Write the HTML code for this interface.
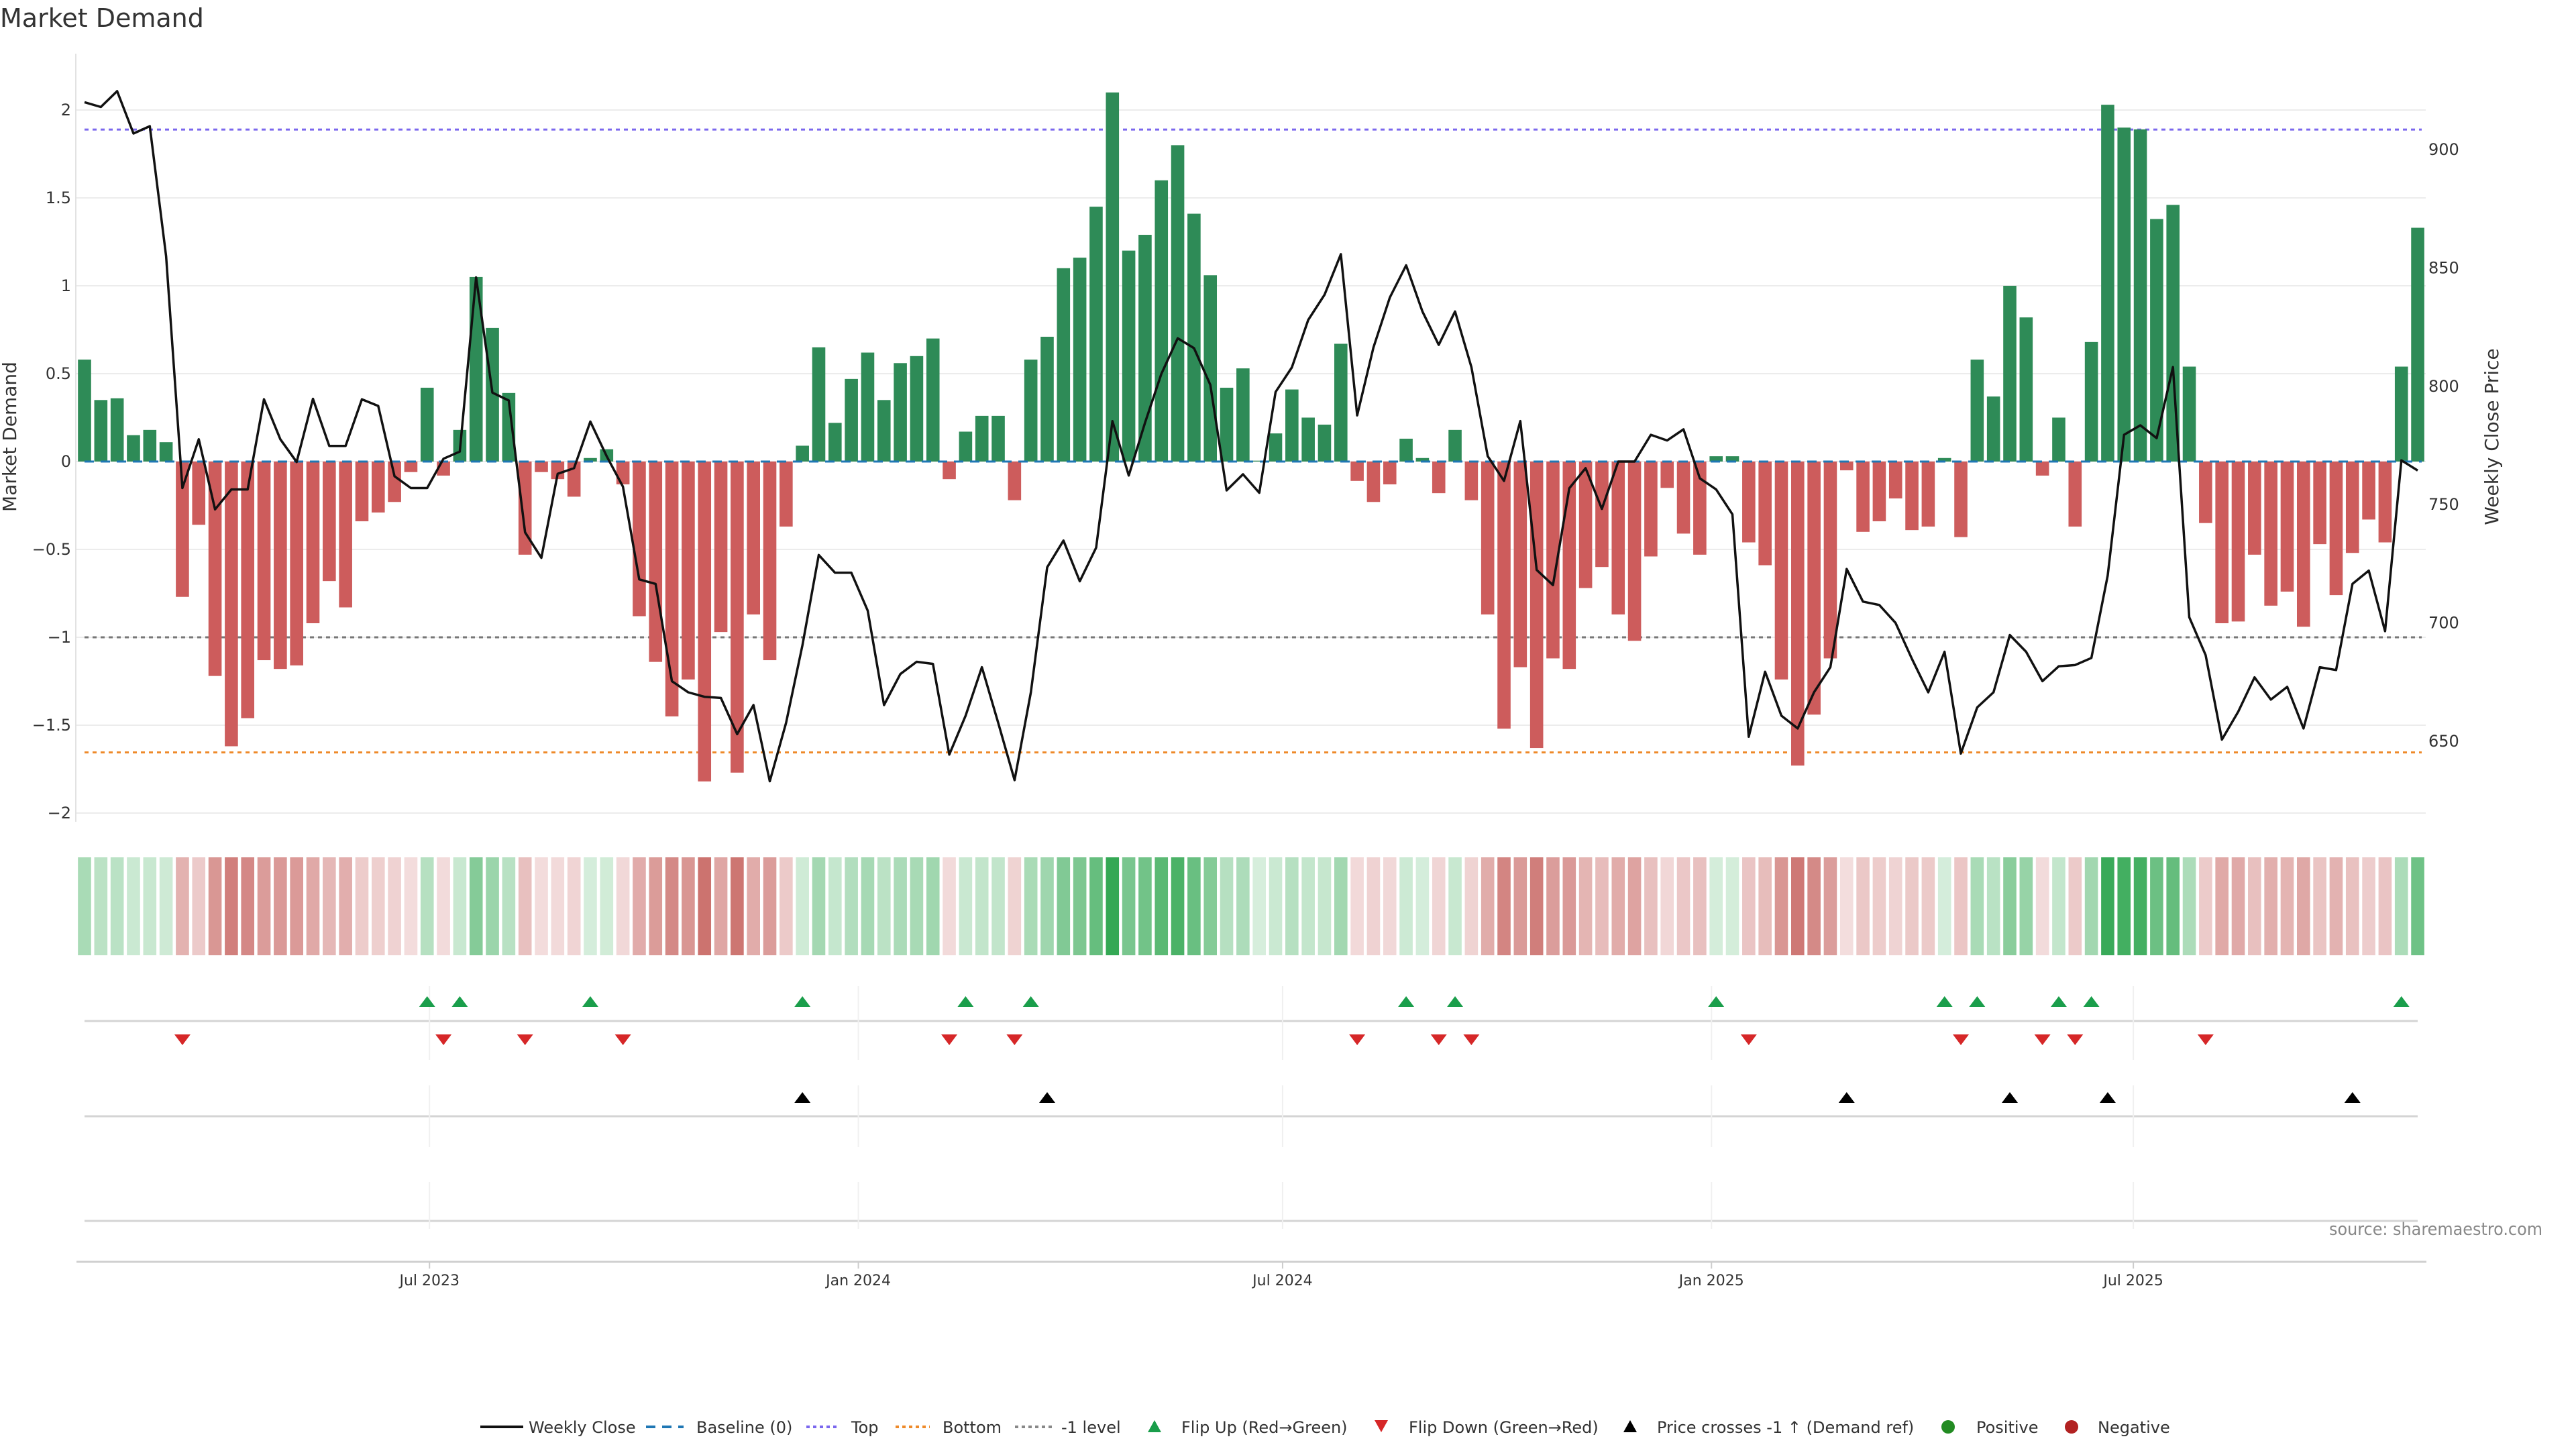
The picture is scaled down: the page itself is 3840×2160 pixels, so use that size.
<!DOCTYPE html>
<html><head><meta charset="utf-8"><style>
html,body{margin:0;padding:0;background:#fff;}
svg{display:block;font-family:"DejaVu Sans","Liberation Sans",sans-serif;}
</style></head><body>
<svg id="chart" width="3840" height="2160" viewBox="0 0 3840 2160" xmlns="http://www.w3.org/2000/svg">
<text x="0" y="40" font-size="38" fill="#333">Market Demand</text>
<g id="grid"></g><g id="levels"></g><g id="bars"></g><g id="line"></g><g id="axes"></g>
<g id="heat"></g><g id="markers"></g><g id="xaxis"></g><g id="legend"></g>
<text x="3472" y="1841" textLength="318" lengthAdjust="spacingAndGlyphs" font-size="26" fill="#888">source: sharemaestro.com</text>
</svg>
<script>
const demand=[0.58,0.35,0.36,0.15,0.18,0.11,-0.77,-0.36,-1.22,-1.62,-1.46,-1.13,-1.18,-1.16,-0.92,-0.68,-0.83,-0.34,-0.29,-0.23,-0.06,0.42,-0.08,0.18,1.05,0.76,0.39,-0.53,-0.06,-0.1,-0.2,0.02,0.07,-0.13,-0.88,-1.14,-1.45,-1.24,-1.82,-0.97,-1.77,-0.87,-1.13,-0.37,0.09,0.65,0.22,0.47,0.62,0.35,0.56,0.60,0.70,-0.10,0.17,0.26,0.26,-0.22,0.58,0.71,1.10,1.16,1.45,2.10,1.20,1.29,1.60,1.80,1.41,1.06,0.42,0.53,0.005,0.16,0.41,0.25,0.21,0.67,-0.11,-0.23,-0.13,0.13,0.02,-0.18,0.18,-0.22,-0.87,-1.52,-1.17,-1.63,-1.12,-1.18,-0.72,-0.60,-0.87,-1.02,-0.54,-0.15,-0.41,-0.53,0.03,0.03,-0.46,-0.59,-1.24,-1.73,-1.44,-1.12,-0.05,-0.40,-0.34,-0.21,-0.39,-0.37,0.02,-0.43,0.58,0.37,1.00,0.82,-0.08,0.25,-0.37,0.68,2.03,1.90,1.89,1.38,1.46,0.54,-0.35,-0.92,-0.91,-0.53,-0.82,-0.74,-0.94,-0.47,-0.76,-0.52,-0.33,-0.46,0.54,1.33];
const price=[920,918,924.7,906.8,909.9,855,757,777.6,748,756.4,756.4,794.5,777.6,768,794.7,774.8,774.8,794.5,791.7,762,757,757,769.4,772.4,846,797.3,794,738.3,727.5,763,765.4,785.1,770.5,757.6,718.4,716.5,675.4,670.7,668.8,668.3,653,665.3,633.1,657.8,690.6,728.7,721.2,721.2,705.2,665.3,678.4,683.6,682.7,644.4,660.8,681.3,657.8,633.6,670.7,723.5,734.8,717.6,731.8,785.3,762.3,784.6,805.3,820.3,816.1,800.6,756,762.8,755,797.6,808,828,838.7,855.8,787.7,816.4,837.5,851.1,831.6,817.5,831.6,808.1,770.5,760,785.3,722.4,716,756.9,765.4,748.2,768.2,768.2,779.5,777.1,781.8,761.1,756.4,745.9,651.9,679.4,660.8,655.4,670.7,681.3,722.8,709,707.6,700,684.8,670.7,687.8,644.8,664.3,670.7,694.9,687.8,675.4,681.7,682.2,685.2,720,779.5,783.5,778.1,808.1,702.4,686.4,650.7,662.5,677,667.6,673,655.4,681.3,680.1,716.5,722.1,696.5,768.7,764.4];
const crossIdx=[44,59,108,118,124,139];
const leftTicks=[2,1.5,1,0.5,0,-0.5,-1,-1.5,-2];
const leftTickLabels=["2","1.5","1","0.5","0","\u22120.5","\u22121","\u22121.5","\u22122"];
const rightTicks=[900,850,800,750,700,650];
const dateTicks=["2023-07-01","2024-01-01","2024-07-01","2025-01-01","2025-07-01"];
const dateTickLabels=["Jul 2023","Jan 2024","Jul 2024","Jan 2025","Jul 2025"];
const levelTop=1.889, levelBottom=-1.655, levelMinus=-1;
const startDate="2023-02-03";

const NS="http://www.w3.org/2000/svg";
function mk(tag,attrs,parent){const e=document.createElementNS(NS,tag);for(const k in attrs)e.setAttribute(k,attrs[k]);parent.appendChild(e);return e;}
const DAY=86400000, t0=Date.parse(startDate);
const pxPerDay=24.322/7;
function xDate(s){return 126+(Date.parse(s)-t0)/DAY*pxPerDay;}
function xIdx(i){return 126+i*24.322;}
function yL(v){return 688-v*262;}
function yR(p){return 1105-(p-650)*(882/250);}
const X0=113,X1=3616;

const grid=document.getElementById('grid');
leftTicks.forEach((v,i)=>{
  const l=mk('line',{x1:X0,x2:X1,y1:yL(v),y2:yL(v),stroke:'#ececec','stroke-width':2},grid);
  
  
});
const axes=document.getElementById('axes');
const sp=mk('line',{x1:X0,x2:X0,y1:80,y2:1225,stroke:'#e2e2e2','stroke-width':2},axes);


leftTicks.forEach((v,i)=>{
  const t=mk('text',{x:106,y:yL(v)+8,'text-anchor':'end','font-size':24,fill:'#333'},axes);
  t.textContent=leftTickLabels[i];
  
  
});
rightTicks.forEach(p=>{
  const t=mk('text',{x:3620,y:yR(p)+8,'font-size':24,fill:'#333'},axes);
  t.textContent=String(p);
  
  
});
let ta=mk('text',{x:0,y:0,'font-size':28,fill:'#333','text-anchor':'middle',transform:'translate(24,651) rotate(-90)'},axes);
ta.textContent='Market Demand';


ta=mk('text',{x:0,y:0,'font-size':28,fill:'#333','text-anchor':'middle',transform:'translate(3724,651) rotate(-90)'},axes);
ta.textContent='Weekly Close Price';



const bars=document.getElementById('bars');
demand.forEach((v,i)=>{
  const y0=yL(0),y1=yL(v);
  const r=mk('rect',{x:xIdx(i)-9.8,width:19.6,y:Math.min(y0,y1),height:Math.max(1,Math.abs(y1-y0)),fill:v>=0?'#2e8b57':'#cd5c5c'},bars);
  
  
});
const lv=document.getElementById('levels');
[[levelTop,'#7b68ee','6 6','top-level-line'],[levelBottom,'#ee8a2a','6 6','bottom-level-line'],[levelMinus,'#777','6 6','minus-one-level-line']].forEach(a=>{
  const l=mk('line',{x1:126,x2:3610,y1:yL(a[0]),y2:yL(a[0]),stroke:a[1],'stroke-width':3,'stroke-dasharray':a[2]},lv);
  
  
});
const lineG=document.getElementById('line');
const bl=mk('line',{x1:126,x2:3610,y1:yL(0),y2:yL(0),stroke:'#1f77b4','stroke-width':3,'stroke-dasharray':'14 10'},lineG);


const pl=mk('polyline',{points:price.map((p,i)=>xIdx(i).toFixed(1)+','+yR(p).toFixed(1)).join(' '),fill:'none',stroke:'#111','stroke-width':3.5,'stroke-linejoin':'round'},lineG);



function mix(a,b,t){return 'rgb('+a.map((c,k)=>Math.round(c+(b[k]-c)*t)).join(',')+')';}
const heat=document.getElementById('heat');
demand.forEach((v,i)=>{
  const t=Math.min(Math.abs(v)/2.1,1);
  const c=v>=0?mix([214,238,220],[52,168,84],t):mix([244,224,224],[198,98,94],t);
  const r=mk('rect',{x:xIdx(i)-9.8,width:19.6,y:1278,height:146,fill:c},heat);
  
  
});

const mg=document.getElementById('markers');
[[1522,1470,1580],[1664,1618,1710],[1820,1762,1832]].forEach(a=>{
  const l=mk('line',{x1:126,x2:3604,y1:a[0],y2:a[0],stroke:'#d4d4d4','stroke-width':3},mg);
  
  
  dateTicks.forEach(d=>{
    const g=mk('line',{x1:xDate(d),x2:xDate(d),y1:a[1],y2:a[2],stroke:'#f0f0f0','stroke-width':2},mg);
    
    
  });
});
function tri(x,y,up,color,name){
  const pts=up?[[x-12,y+8],[x+12,y+8],[x,y-8]]:[[x-12,y-8],[x+12,y-8],[x,y+8]];
  const p=mk('polygon',{points:pts.map(q=>q.join(',')).join(' '),fill:color},mg);
  
  
}
for(let i=1;i<demand.length;i++){
  if(demand[i-1]<0&&demand[i]>=0)tri(xIdx(i),1493,true,'#1a9e4b','flip-up-marker');
  if(demand[i-1]>=0&&demand[i]<0)tri(xIdx(i),1550,false,'#d62728','flip-down-marker');
}
crossIdx.forEach(i=>tri(xIdx(i),1636,true,'#000','price-cross-marker'));

const xa=document.getElementById('xaxis');
const ax=mk('line',{x1:114,x2:3617,y1:1881,y2:1881,stroke:'#d0d0d0','stroke-width':3},xa);


dateTicks.forEach((d,i)=>{
  const tk=mk('line',{x1:xDate(d),x2:xDate(d),y1:1881,y2:1891,stroke:'#ccc','stroke-width':2},xa);
  
  
  const t=mk('text',{x:xDate(d),y:1916,'text-anchor':'middle','font-size':22,fill:'#333'},xa);
  t.textContent=dateTickLabels[i];
  
  
});

const lg=document.getElementById('legend');
const LY=2127;
function ltext(x,s){const t=mk('text',{x:x,y:LY+9,'font-size':24,fill:'#333'},lg);t.textContent=s;}
function lline(x1,x2,c,dash,w){const l=mk('line',{x1:x1,x2:x2,y1:LY,y2:LY,stroke:c,'stroke-width':w,'stroke-dasharray':dash},lg);}
lline(716,780,'#111','none',4);ltext(788,'Weekly Close');
lline(963,1019,'#1f77b4','14 10',4);ltext(1038,'Baseline (0)');
lline(1202,1250,'#7b68ee','5 5',4);ltext(1269,'Top');
lline(1335,1386,'#ee8a2a','5 5',4);ltext(1405,'Bottom');
lline(1513,1569,'#888','5 5',4);ltext(1582,'-1 level');
function ltri(x,up,c){const pts=up?[[x-10,LY+8],[x+10,LY+8],[x,LY-10]]:[[x-10,LY-10],[x+10,LY-10],[x,LY+8]];const p=mk('polygon',{points:pts.map(q=>q.join(',')).join(' '),fill:c},lg);}
ltri(1721,true,'#1a9e4b');ltext(1761,'Flip Up (Red\u2192Green)');
ltri(2059,false,'#d62728');ltext(2100,'Flip Down (Green\u2192Red)');
ltri(2430,true,'#000');ltext(2470,'Price crosses -1 \u2191 (Demand ref)');
function lcirc(x,c){const e=mk('circle',{cx:x,cy:LY,r:10,fill:c},lg);}
lcirc(2904,'#228b22');ltext(2946,'Positive');
lcirc(3088,'#b22222');ltext(3127,'Negative');
</script>
</body></html>
